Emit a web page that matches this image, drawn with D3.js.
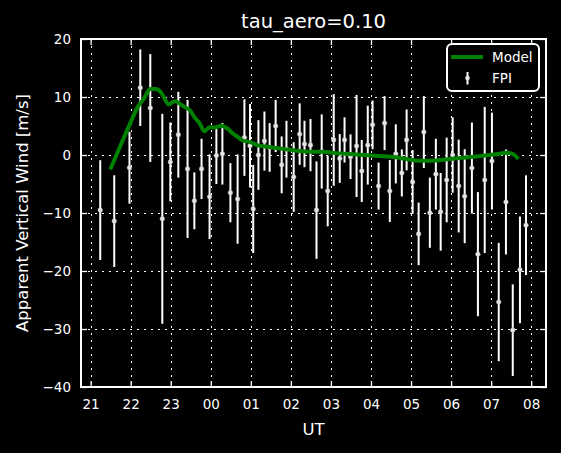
<!DOCTYPE html>
<html><head><meta charset="utf-8">
<script src="https://cdn.jsdelivr.net/npm/d3@7"></script>
<style>
html,body{margin:0;padding:0;background:#000;}
svg{display:block;font-family:"DejaVu Sans",sans-serif;}
</style></head>
<body>
<svg id="chart" width="561" height="453"></svg>
<script>
// FPI observations (UT hours, 24+ = next day)
const fpiUT = [21.24,21.59,21.97,22.24,22.49,22.79,22.99,23.19,23.42,23.59,
  23.77,23.97,24.14,24.29,24.49,24.67,24.84,24.98,25.06,25.19,
  25.34,25.47,25.62,25.77,25.89,26.07,26.22,26.34,26.49,26.64,
  26.77,26.92,27.07,27.22,27.34,27.49,27.64,27.77,27.92,28.04,
  28.19,28.34,28.47,28.62,28.77,28.89,29.04,29.19,29.32,29.47,
  29.62,29.74,29.89,30.04,30.19,30.34,30.52,30.67,30.84,31.02,
  31.19,31.37,31.54,31.72,31.87];
const fpiWind = [-9.5,-11.4,-2.2,11.6,8.1,-11.0,-1.2,3.5,-2.4,-7.9,
  -2.4,-7.2,-0.1,0.2,-6.5,-7.6,3.0,1.6,-9.3,0.0,
  2.4,1.3,5.0,-1.7,1.0,-3.8,3.6,1.9,1.7,-9.5,
  0.6,-6.2,2.6,-0.6,2.6,-0.3,1.55,-2.75,1.7,5.2,
  -5.35,5.5,-6.2,0.2,-3.1,2.6,-4.65,-13.6,3.95,-9.95,
  -3.3,-9.8,-4.3,0.0,-5.35,-7.1,-2.25,-17.1,-4.3,-1.05,
  -25.35,-8.1,-30.2,-19.8,-12.1];
const fpiErr = [8.6,7.9,6.2,6.6,9.3,18.1,6.8,7.4,11.9,4.9,
  5.2,7.3,4.9,5.3,5.1,7.7,6.6,7.2,7.6,6.0,
  5.1,4.2,4.5,4.9,4.9,6.0,5.3,4.0,4.5,8.4,
  6.4,6.1,7.9,4.2,3.9,3.85,8.8,5.35,6.8,4.2,
  4.05,4.65,5.35,5.1,4.05,5.25,5.5,5.4,6.2,6.05,
  6.1,6.7,7.3,6.5,8.0,8.1,7.85,10.7,12.6,8.35,
  10.2,9.05,7.9,9.2,8.6];

// Model curve
const modelUT = [21.49,21.72,21.97,22.18,22.34,22.49,22.63,22.76,22.87,22.95,
  23.05,23.13,23.22,23.34,23.47,23.59,23.72,23.84,23.97,24.09,
  24.26,24.43,24.55,24.68,24.8,24.97,25.18,25.39,25.64,25.89,
  26.14,26.47,26.72,27.22,27.72,28.22,28.63,28.89,29.09,29.3,
  29.64,29.97,30.3,30.64,30.97,31.22,31.39,31.52,31.62,31.68];
const modelWind = [-2.5,1.2,5.2,8.3,9.8,11.4,11.4,10.8,9.4,8.7,
  9.1,9.25,8.85,8.3,7.8,6.55,5.5,4.1,4.8,4.75,
  5.05,4.5,3.7,3.1,2.5,2.25,1.65,1.45,1.2,0.97,
  0.74,0.57,0.57,0.28,0.05,-0.17,-0.4,-0.7,-0.93,-0.98,
  -0.93,-0.7,-0.47,-0.24,0,0.22,0.4,0.22,-0.24,-0.7];

const xTickValues = [21,22,23,24,25,26,27,28,29,30,31,32];
const xTickLabels = ["21","22","23","00","01","02","03","04","05","06","07","08"];
const yTickValues = [20,10,0,-10,-20,-30,-40];

const titleText = "tau_aero=0.10";
const xLabelText = "UT";
const yLabelText = "Apparent Vertical Wind [m/s]";
const legendLabels = ["Model","FPI"];

const svg = d3.select("#chart");
const W = 561, H = 453;
const m = {left:81, right:15, top:39, bottom:66};
const pw = W - m.left - m.right, ph = H - m.top - m.bottom;

svg.append("rect").attr("width",W).attr("height",H).attr("fill","#000");

const x = d3.scaleLinear().domain([20.76, 32.37]).range([m.left, m.left+pw]);
const y = d3.scaleLinear().domain([-40, 20]).range([m.top+ph, m.top]);

const g = svg.append("g");

// grid
const gridStyle = s => s.attr("stroke","#fff").attr("stroke-width",1).attr("stroke-dasharray","2,5");
g.selectAll(".vg").data(xTickValues).join("line")
  .attr("x1",d=>Math.round(x(d))+0.5).attr("x2",d=>Math.round(x(d))+0.5)
  .attr("y1",m.top).attr("y2",m.top+ph).call(gridStyle);
g.selectAll(".hg").data(yTickValues).join("line")
  .attr("y1",d=>Math.round(y(d))+0.5).attr("y2",d=>Math.round(y(d))+0.5)
  .attr("x1",m.left).attr("x2",m.left+pw).call(gridStyle);

// clip
svg.append("clipPath").attr("id","clip").append("rect")
  .attr("x",m.left).attr("y",m.top).attr("width",pw).attr("height",ph);
const plot = svg.append("g").attr("clip-path","url(#clip)");

// error bars
const fpi = fpiUT.map((u,i)=>({u, w:fpiWind[i], e:fpiErr[i]}));
plot.selectAll(".eb").data(fpi).join("line")
  .attr("x1",d=>x(d.u)).attr("x2",d=>x(d.u))
  .attr("y1",d=>y(d.w+d.e)).attr("y2",d=>y(d.w-d.e))
  .attr("stroke","#fff").attr("stroke-width",2);
plot.selectAll(".pt").data(fpi).join("circle")
  .attr("cx",d=>x(d.u)).attr("cy",d=>y(d.w)).attr("r",2.3)
  .attr("fill","#e6e6e6").attr("stroke","#bbb").attr("stroke-width",0.5);

// model line
const model = modelUT.map((u,i)=>({u, w:modelWind[i]}));
plot.append("path").datum(model)
  .attr("d", d3.line().x(d=>x(d.u)).y(d=>y(d.w)).curve(d3.curveMonotoneX))
  .attr("fill","none").attr("stroke","#008000").attr("stroke-width",4)
  .attr("stroke-linejoin","round");

// axes (ticks inward)
const tl = 6;
const axB = d3.axisBottom(x).tickValues(xTickValues).tickFormat((d,i)=>xTickLabels[i]).tickSizeInner(-tl).tickSizeOuter(0).tickPadding(12);
const axT = d3.axisTop(x).tickValues(xTickValues).tickFormat("").tickSizeInner(-tl).tickSizeOuter(0);
const axL = d3.axisLeft(y).tickValues(yTickValues).tickFormat(d=>d<0?"\u2212"+Math.abs(d):d).tickSizeInner(-tl).tickSizeOuter(0).tickPadding(10);
const axR = d3.axisRight(y).tickValues(yTickValues).tickFormat("").tickSizeInner(-tl).tickSizeOuter(0);

function styleAxis(sel){
  sel.select(".domain").remove();
  sel.selectAll(".tick line").attr("stroke","#fff").attr("stroke-width",1.3);
  sel.selectAll(".tick text").attr("fill","#fff").attr("font-size","13.5px").attr("font-family","DejaVu Sans");
}
svg.append("g").attr("transform",`translate(0,${m.top+ph})`).call(axB).call(styleAxis);
svg.append("g").attr("transform",`translate(0,${m.top})`).call(axT).call(styleAxis);
svg.append("g").attr("transform",`translate(${m.left},0)`).call(axL).call(styleAxis);
svg.append("g").attr("transform",`translate(${m.left+pw},0)`).call(axR).call(styleAxis);

// frame
svg.append("rect").attr("x",m.left).attr("y",m.top).attr("width",pw).attr("height",ph)
  .attr("fill","none").attr("stroke","#fff").attr("stroke-width",2);

// titles
svg.append("text").attr("x",m.left+pw/2).attr("y",28).attr("text-anchor","middle")
  .attr("fill","#fff").attr("font-size","19.5px").text(titleText);
svg.append("text").attr("x",m.left+pw/2).attr("y",435).attr("text-anchor","middle")
  .attr("fill","#fff").attr("font-size","16.5px").text(xLabelText);
svg.append("text").attr("transform",`translate(28,${m.top+ph/2}) rotate(-90)`)
  .attr("text-anchor","middle").attr("fill","#fff").attr("font-size","16.5px").text(yLabelText);

// legend
const lg = svg.append("g");
lg.append("rect").attr("x",447).attr("y",44).attr("width",92).attr("height",47).attr("rx",5)
  .attr("fill","#000").attr("stroke","#fff").attr("stroke-width",2);
lg.append("line").attr("x1",451).attr("x2",483).attr("y1",57).attr("y2",57)
  .attr("stroke","#008000").attr("stroke-width",4);
lg.append("line").attr("x1",467.5).attr("x2",467.5).attr("y1",72).attr("y2",84.5)
  .attr("stroke","#fff").attr("stroke-width",2);
lg.append("circle").attr("cx",467.5).attr("cy",78).attr("r",2.3).attr("fill","#e6e6e6");
lg.append("text").attr("x",492).attr("y",62).attr("fill","#fff").attr("font-size","13.5px").text(legendLabels[0]);
lg.append("text").attr("x",492).attr("y",83).attr("fill","#fff").attr("font-size","13.5px").text(legendLabels[1]);
</script>
</body></html>
